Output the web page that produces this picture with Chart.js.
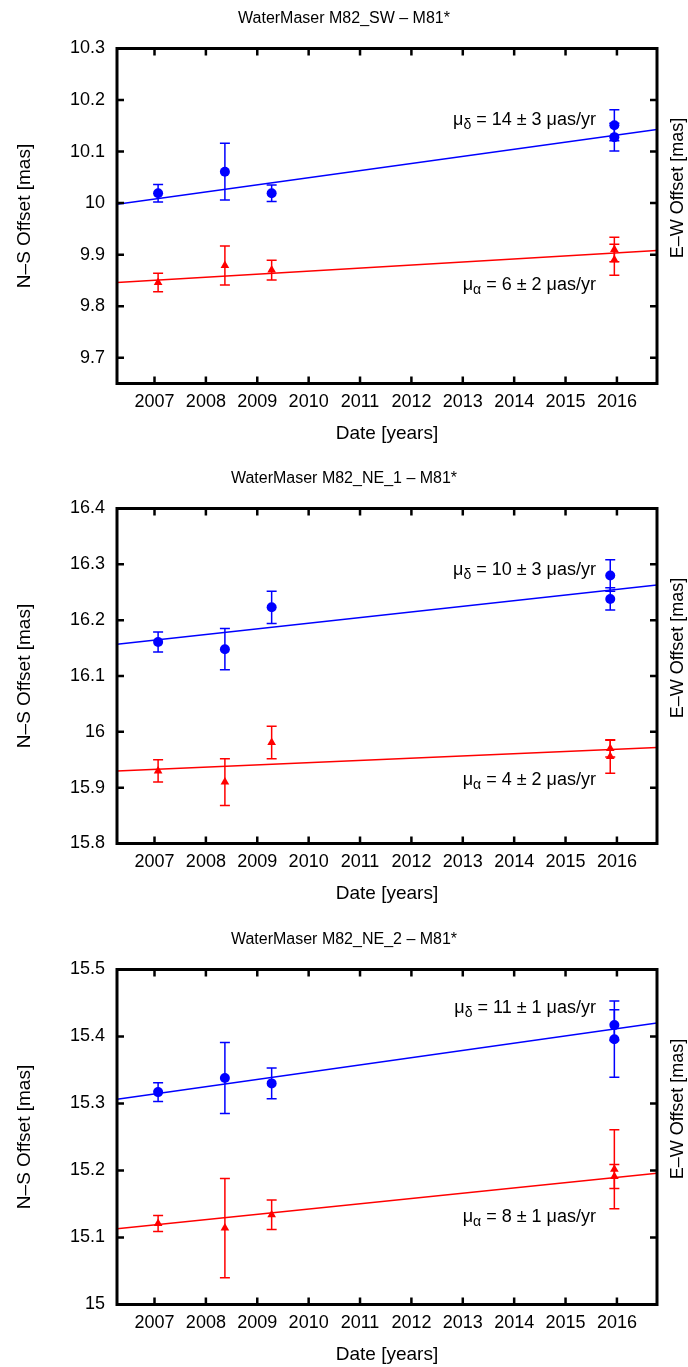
<!DOCTYPE html>
<html>
<head>
<meta charset="utf-8">
<script src="https://cdn.jsdelivr.net/npm/chart.js@4.4.1/dist/chart.umd.min.js"></script>
<style>
html,body{margin:0;padding:0;background:#fff;overflow:hidden;width:688px;height:1367px}
canvas{position:absolute;left:0}
</style>
</head>
<body>
<canvas id="c1" width="688" height="460" style="top:0"></canvas>
<canvas id="c2" width="688" height="460" style="top:460px"></canvas>
<canvas id="c3" width="688" height="460" style="top:921px"></canvas>
<script>
// shared x axis
const xMin = 2006.27, xMax = 2016.78;
const xTicks = [2007, 2008, 2009, 2010, 2011, 2012, 2013, 2014, 2015, 2016];

// panel 1: M82_SW
const title1 = 'WaterMaser M82_SW – M81*';
const dates1 = [2007.07, 2008.37, 2009.28, 2015.95, 2015.95];
const dec1 = [10.019, 10.061, 10.019, 10.151, 10.128];
const decErr1 = [0.017, 0.055, 0.016, 0.030, 0.027];
const ra1 = [9.846, 9.879, 9.870, 9.910, 9.890];
const raErr1 = [0.018, 0.038, 0.019, 0.024, 0.030];
const fitDec1 = [9.998, 0.0138];   // value at xMin, slope [mas/yr]
const fitRa1 = [9.846, 0.0059];
const yRange1 = [9.65, 10.3];
const yTicks1 = [9.7, 9.8, 9.9, 10.0, 10.1, 10.2, 10.3];
const mu1 = ['14 ± 3', '6 ± 2'];

// panel 2: M82_NE_1
const title2 = 'WaterMaser M82_NE_1 – M81*';
const dates2 = [2007.07, 2008.37, 2009.28, 2015.87, 2015.87];
const dec2 = [16.161, 16.148, 16.223, 16.280, 16.238];
const decErr2 = [0.018, 0.037, 0.029, 0.028, 0.020];
const ra2 = [15.930, 15.910, 15.981, 15.970, 15.956];
const raErr2 = [0.020, 0.042, 0.029, 0.015, 0.030];
const fitDec2 = [16.157, 0.0101];
const fitRa2 = [15.930, 0.0040];
const yRange2 = [15.8, 16.4];
const yTicks2 = [15.8, 15.9, 16.0, 16.1, 16.2, 16.3, 16.4];
const mu2 = ['10 ± 3', '4 ± 2'];

// panel 3: M82_NE_2
const title3 = 'WaterMaser M82_NE_2 – M81*';
const dates3 = [2007.07, 2008.37, 2009.28, 2015.95, 2015.95];
const dec3 = [15.317, 15.338, 15.330, 15.417, 15.396];
const decErr3 = [0.014, 0.053, 0.023, 0.023, 0.057];
const ra3 = [15.121, 15.114, 15.134, 15.202, 15.191];
const raErr3 = [0.012, 0.074, 0.022, 0.059, 0.018];
const fitDec3 = [15.3065, 0.0108];
const fitRa3 = [15.113, 0.0079];
const yRange3 = [15.0, 15.5];
const yTicks3 = [15.0, 15.1, 15.2, 15.3, 15.4, 15.5];
const mu3 = ['11 ± 1', '8 ± 1'];

const FONT = '"Liberation Sans", Arial, Helvetica, sans-serif';
Chart.defaults.font.family = FONT;
Chart.defaults.font.size = 18;
Chart.defaults.color = '#000';

function drawMu(ctx, xr, yc, sub, rest) {
  ctx.save();
  ctx.fillStyle = '#000';
  ctx.textBaseline = 'middle';
  ctx.textAlign = 'left';
  const big = '18px ' + FONT, small = '14px ' + FONT;
  ctx.font = big;
  const w1 = ctx.measureText('μ').width;
  const w3 = ctx.measureText(rest).width;
  ctx.font = small;
  const w2 = ctx.measureText(sub).width;
  let x = xr - (w1 + w2 + w3);
  ctx.font = big;
  ctx.fillText('μ', x, yc);
  x += w1;
  ctx.font = small;
  ctx.fillText(sub, x, yc + 5);
  x += w2;
  ctx.font = big;
  ctx.fillText(rest, x, yc);
  ctx.restore();
}

const gnuFrame = {
  id: 'gnuFrame',
  beforeDatasetsDraw(chart) {
    const {ctx, scales: {x, y}} = chart;
    chart.data.datasets.forEach(ds => {
      if (!ds.errors) return;
      ctx.save();
      ctx.strokeStyle = ds.borderColor;
      ctx.lineWidth = 1.5;
      ds.data.forEach((p, i) => {
        const px = x.getPixelForValue(p.x);
        const top = y.getPixelForValue(p.y + ds.errors[i]);
        const bot = y.getPixelForValue(p.y - ds.errors[i]);
        ctx.beginPath();
        ctx.moveTo(px, top); ctx.lineTo(px, bot);
        ctx.moveTo(px - 5, top); ctx.lineTo(px + 5, top);
        ctx.moveTo(px - 5, bot); ctx.lineTo(px + 5, bot);
        ctx.stroke();
      });
      ctx.restore();
    });
  },
  afterDraw(chart, args, opts) {
    const {ctx, chartArea: a, scales: {x, y}} = chart;
    ctx.save();
    ctx.strokeStyle = '#000';
    ctx.lineWidth = 2.5;
    ctx.beginPath();
    x.ticks.forEach(t => {
      const px = x.getPixelForValue(t.value);
      ctx.moveTo(px, a.bottom); ctx.lineTo(px, a.bottom - 7);
      ctx.moveTo(px, a.top); ctx.lineTo(px, a.top + 7);
    });
    y.ticks.forEach(t => {
      const py = y.getPixelForValue(t.value);
      ctx.moveTo(a.left, py); ctx.lineTo(a.left + 7, py);
      ctx.moveTo(a.right, py); ctx.lineTo(a.right - 7, py);
    });
    ctx.stroke();
    ctx.lineWidth = 3;
    ctx.strokeRect(a.left, a.top, a.right - a.left, a.bottom - a.top);
    ctx.fillStyle = '#000';
    ctx.textAlign = 'center';
    ctx.textBaseline = 'middle';
    // title
    ctx.font = '16px ' + FONT;
    ctx.fillText(opts.title, chart.width / 2, 19);
    // right axis label
    ctx.translate(678, (a.top + a.bottom) / 2 - 28);
    ctx.rotate(-Math.PI / 2);
    ctx.font = '18px ' + FONT;
    ctx.fillText('E–W Offset [mas]', 0, 0);
    ctx.restore();
    const h = a.bottom - a.top;
    drawMu(ctx, 596, a.top + opts.labelPos[0] * h, 'δ', ' = ' + opts.mu[0] + ' μas/yr');
    drawMu(ctx, 596, a.top + opts.labelPos[1] * h, 'α', ' = ' + opts.mu[1] + ' μas/yr');
  }
};

function pts(xs, ys) { return xs.map((v, i) => ({x: v, y: ys[i]})); }
function fitLine(f) { return [{x: xMin, y: f[0]}, {x: xMax, y: f[0] + f[1] * (xMax - xMin)}]; }

function makePanel(id, title, dates, dec, decErr, ra, raErr, fitDec, fitRa, yRange, yTicks, mu, labelPos) {
  new Chart(document.getElementById(id), {
    type: 'scatter',
    data: {
      datasets: [
        {data: fitLine(fitDec), showLine: true, borderColor: '#0000ff', borderWidth: 1.5, pointRadius: 0},
        {data: fitLine(fitRa), showLine: true, borderColor: '#ff0000', borderWidth: 1.5, pointRadius: 0},
        {data: pts(dates, dec), errors: decErr, borderColor: '#0000ff', backgroundColor: '#0000ff',
         pointStyle: 'circle', pointRadius: 5, borderWidth: 0},
        {data: pts(dates, ra), errors: raErr, borderColor: '#ff0000', backgroundColor: '#ff0000',
         pointStyle: 'triangle', pointRadius: 5, borderWidth: 0}
      ]
    },
    options: {
      responsive: false,
      animation: false,
      devicePixelRatio: 1,
      layout: {padding: {top: 48.5}},
      plugins: {
        legend: {display: false},
        tooltip: {enabled: false},
        title: {display: false},
        gnuFrame: {mu: mu, labelPos: labelPos, title: title}
      },
      scales: {
        x: {
          type: 'linear', min: xMin, max: xMax,
          afterBuildTicks: s => { s.ticks = xTicks.map(v => ({value: v})); },
          afterFit: s => { s.height = 76.5; },
          grid: {display: false, drawTicks: false},
          border: {display: false},
          ticks: {padding: 8, maxRotation: 0, autoSkip: false, callback: v => String(v)},
          title: {display: true, text: 'Date [years]', font: {size: 19}, padding: {top: 0, bottom: 15}}
        },
        y: {
          type: 'linear', min: yRange[0], max: yRange[1],
          afterBuildTicks: s => { s.ticks = yTicks.map(v => ({value: v})); },
          afterFit: s => { s.width = 117; },
          grid: {display: false, drawTicks: false},
          border: {display: false},
          ticks: {padding: 12, callback: v => String(Number(v.toFixed(2)))},
          title: {display: true, text: 'N–S Offset [mas]', font: {size: 19}, padding: {top: 13.5, bottom: 4}}
        },
        y2: {
          type: 'linear', position: 'right', min: yRange[0], max: yRange[1],
          afterFit: s => { s.width = 31; },
          grid: {display: false, drawTicks: false},
          border: {display: false},
          ticks: {display: false}
        }
      }
    },
    plugins: [gnuFrame]
  });
}

makePanel('c1', title1, dates1, dec1, decErr1, ra1, raErr1, fitDec1, fitRa1, yRange1, yTicks1, mu1, [0.213, 0.706]);
makePanel('c2', title2, dates2, dec2, decErr2, ra2, raErr2, fitDec2, fitRa2, yRange2, yTicks2, mu2, [0.184, 0.81]);
makePanel('c3', title3, dates3, dec3, decErr3, ra3, raErr3, fitDec3, fitRa3, yRange3, yTicks3, mu3, [0.115, 0.739]);
</script>
</body>
</html>
